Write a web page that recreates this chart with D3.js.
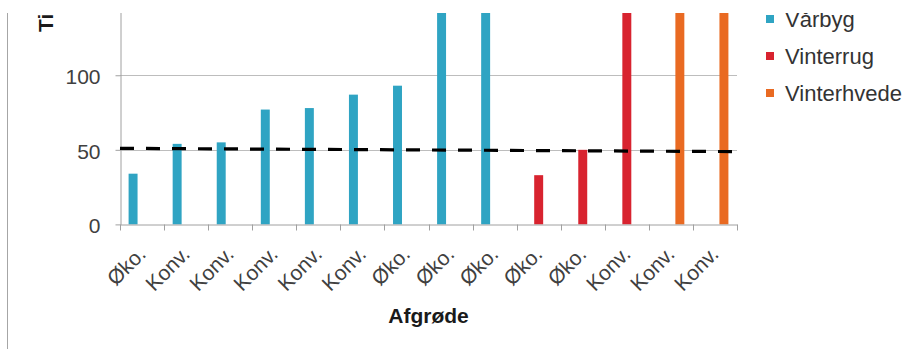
<!DOCTYPE html>
<html>
<head>
<meta charset="utf-8">
<script src="https://cdn.jsdelivr.net/npm/d3@7"></script>
<style>
  body { margin: 0; background: #fff; }
  svg { display: block; font-family: "Liberation Sans", Arial, sans-serif; }
</style>
</head>
<body>
<svg id="chart" width="914" height="349"></svg>
<script>
// data
const categories = ["Øko.", "Konv.", "Konv.", "Konv.", "Konv.", "Konv.", "Øko.", "Øko.", "Øko.", "Øko.", "Øko.", "Konv.", "Konv.", "Konv."];
const crops = ["Vårbyg", "Vårbyg", "Vårbyg", "Vårbyg", "Vårbyg", "Vårbyg", "Vårbyg", "Vårbyg", "Vårbyg", "Vinterrug", "Vinterrug", "Vinterrug", "Vinterhvede", "Vinterhvede"];
const values = [34, 54, 55, 77, 78, 87, 93, 165, 180, 33, 50, 160, 170, 175];
const series = ["Vårbyg", "Vinterrug", "Vinterhvede"];
const seriesColors = ["#2fa4c3", "#d8232f", "#e96a22"];
const refLine = [51, 48.8]; // dashed line, start and end
const yTicks = [0, 50, 100];

const svg = d3.select("#chart");

// the picture is cropped at the top
svg.append("clipPath").attr("id", "crop")
  .append("rect").attr("x", 0).attr("y", 13).attr("width", 914).attr("height", 336);

const root = svg.append("g").attr("clip-path", "url(#crop)");

// outer frame line on the left
root.append("line")
  .attr("x1", 7.5).attr("x2", 7.5).attr("y1", 0).attr("y2", 349)
  .attr("stroke", "#a6a6a6");

const left = 120, right = 737, bottom = 224.4;
const pxPerUnit = 1.4915;

const x0 = d3.scaleBand().domain(d3.range(categories.length)).range([left, right]);
const x1 = d3.scaleBand().domain(series)
  .range([x0.bandwidth() * 0.195, x0.bandwidth() * 0.805]);
const y = d3.scaleLinear().domain([0, 150]).range([bottom, bottom - 150 * pxPerUnit]);
const color = d3.scaleOrdinal(series, seriesColors);

// gridlines
root.append("g")
  .selectAll("line")
  .data(yTicks.filter((d) => d > 0))
  .join("line")
  .attr("x1", left).attr("x2", right)
  .attr("y1", (d) => Math.round(y(d)) + 0.5)
  .attr("y2", (d) => Math.round(y(d)) + 0.5)
  .attr("stroke", "#bdbdbd");

// bars
root.append("g")
  .selectAll("rect")
  .data(values)
  .join("rect")
  .attr("x", (d, i) => x0(i) + x1(crops[i]))
  .attr("width", x1.bandwidth())
  .attr("y", (d) => y(d))
  .attr("height", (d) => y(0) - y(d))
  .attr("fill", (d, i) => color(crops[i]));

// y axis
const yAxis = root.append("g")
  .attr("transform", `translate(${left + 0.5},0)`)
  .call(d3.axisLeft(y).tickValues(yTicks).tickSize(5).tickPadding(15).tickSizeOuter(0));
yAxis.select(".domain").attr("stroke", "#a0a0a0");
yAxis.selectAll(".tick line").attr("stroke", "#a0a0a0");
yAxis.selectAll(".tick text")
  .attr("font-size", 21).attr("fill", "#404040").attr("dy", "0.4em");

// x axis
const xAxis = root.append("g")
  .attr("transform", `translate(0,${Math.round(bottom) + 0.5})`)
  .call(d3.axisBottom(x0).tickValues([]).tickSizeOuter(0));
xAxis.select(".domain").attr("stroke", "#a0a0a0");
xAxis.selectAll(".sep")
  .data(d3.range(categories.length + 1))
  .join("line")
  .attr("class", "sep")
  .attr("x1", (d) => Math.round(left + d * x0.step()) + 0.5)
  .attr("x2", (d) => Math.round(left + d * x0.step()) + 0.5)
  .attr("y1", 0).attr("y2", 6)
  .attr("stroke", "#a0a0a0");

// rotated category labels
root.append("g")
  .selectAll("text")
  .data(categories)
  .join("text")
  .attr("transform", (d, i) => `translate(${x0(i) + x0.bandwidth() / 2 + 5},${bottom + 31}) rotate(-45)`)
  .attr("text-anchor", "end")
  .attr("font-size", 21)
  .attr("fill", "#404040")
  .text((d) => d);

// dashed reference line across the plot
root.append("path")
  .datum(refLine)
  .attr("d", d3.line().x((d, i) => (i === 0 ? left : right)).y((d) => y(d)))
  .attr("fill", "none")
  .attr("stroke", "#000")
  .attr("stroke-width", 3.2)
  .attr("stroke-dasharray", "14 12");

// axis titles
root.append("text")
  .attr("x", (left + right) / 2)
  .attr("y", 323)
  .attr("text-anchor", "middle")
  .attr("font-size", 21)
  .attr("font-weight", "bold")
  .attr("fill", "#1a1a1a")
  .text("Afgrøde");

root.append("text")
  .attr("transform", "translate(53,32) rotate(-90)")
  .attr("font-size", 21)
  .attr("font-weight", "bold")
  .attr("fill", "#1a1a1a")
  .text("Tilført N (kg/ha)");

// legend
const legend = root.append("g")
  .selectAll("g")
  .data(series)
  .join("g")
  .attr("transform", (d, i) => `translate(766,${19 + i * 37})`);
legend.append("rect")
  .attr("x", 0).attr("y", -4).attr("width", 8).attr("height", 8)
  .attr("fill", (d) => color(d));
legend.append("text")
  .attr("x", 19).attr("dy", "0.35em")
  .attr("font-size", 22)
  .attr("fill", "#333")
  .text((d) => d);
</script>
</body>
</html>
